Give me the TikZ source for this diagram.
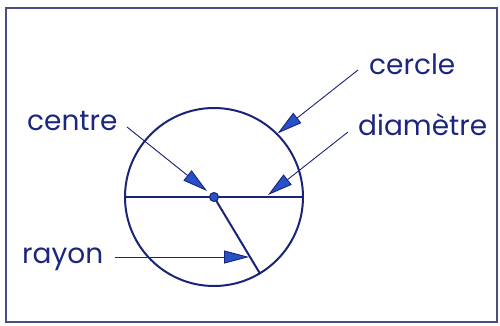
\documentclass[tikz,border=0pt]{standalone}
\usepackage{fontspec}
\setmainfont{Poppins}
\usetikzlibrary{arrows.meta}
\definecolor{txtblue}{RGB}{28,38,125}
\definecolor{lineblue}{RGB}{25,35,120}
\definecolor{headblue}{RGB}{40,80,200}
\definecolor{framecol}{RGB}{70,80,130}
\tikzset{
  lbl/.style={anchor=base west, inner sep=0pt, text=txtblue, font=\fontsize{28}{28}\selectfont},
  pointer/.style={draw=lineblue, line width=0.9pt, -{Triangle[length=25pt,width=13pt,fill=headblue]}},
  thick line/.style={draw=lineblue, line width=2pt}
}
\begin{document}
\begin{tikzpicture}[x=1pt,y=-1pt]
\useasboundingbox (0,0) rectangle (500,325);
\draw[framecol, line width=1.3pt] (6,8) rectangle (497,322);
\node[circle, draw=lineblue, line width=2pt, minimum size=178pt, inner sep=0pt] (circ) at (214,197) {};
\draw[thick line] (circ.west) -- (circ.east);
\draw[thick line] (circ.center) -- (circ.-59);
\node[circle, fill=headblue, draw=lineblue, line width=1pt, minimum size=9pt, inner sep=0pt] (dot) at (214,197) {};
\node[lbl] (cercle) at (369,74) {cercle};
\node[lbl] (diam) at (358,135) {diamètre};
\node[lbl] (centre) at (27,130) {centre};
\node[lbl] (rayon) at (22,263) {rayon};
\coordinate (s1) at (358,70);
\coordinate (s2) at (348,132);
\coordinate (s3) at (127,127);
\coordinate (s4) at (115,257);
\coordinate (t2) at (268,195);
\coordinate (t3) at (207,191);
\coordinate (t4) at (249,257);
\draw[pointer] (s1) -- (circ.45);
\draw[pointer] (s2) -- (t2);
\draw[pointer] (s3) -- (t3);
\draw[pointer] (s4) -- (t4);
\end{tikzpicture}
\end{document}
